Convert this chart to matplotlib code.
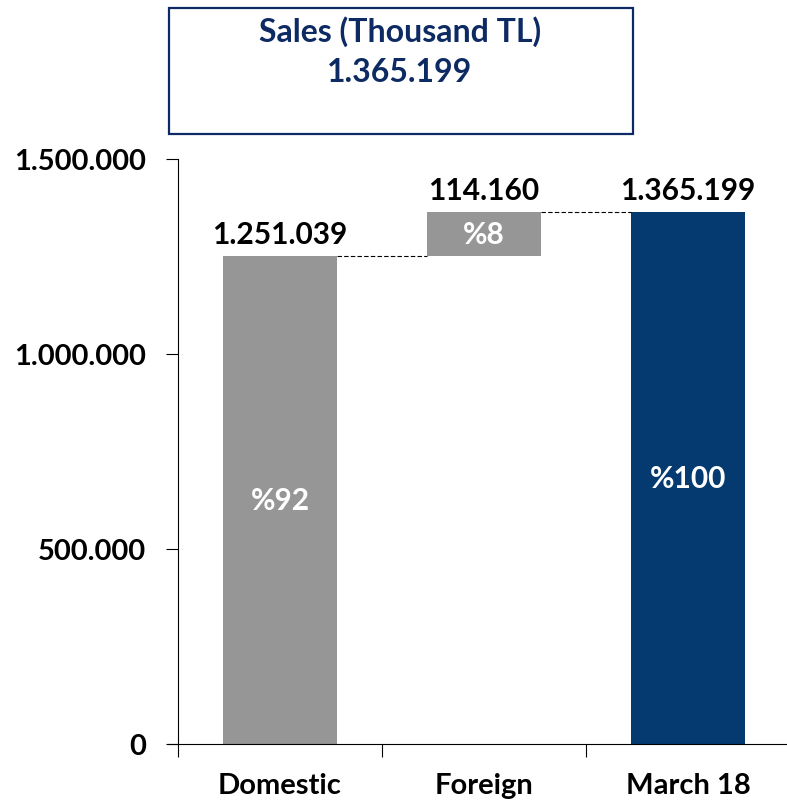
import matplotlib.pyplot as plt
from matplotlib.patches import Rectangle
from matplotlib.ticker import FuncFormatter

categories = ['Domestic', 'Foreign', 'March 18']
values = [1251039, 114160, 1365199]
shares = ['%92', '%8', '%100']
title_lines = ['Sales (Thousand TL)', '1.365.199']

gray = '#969696'
navy = '#053a70'
title_col = '#0d2a63'

plt.rcParams['font.family'] = ['Lato', 'DejaVu Sans']
plt.rcParams['font.weight'] = 'bold'


def tr(v):
    return f'{int(v):,}'.replace(',', '.')


fig = plt.figure(figsize=(7.87, 8.03), dpi=100)
W, H = 787, 803
ax = fig.add_axes([178 / W, 58 / H, 609 / W, 585 / H])

# waterfall: bottoms
bottoms = [0, values[0], 0]
colors = [gray, gray, navy]
bw = 0.56
x = list(range(len(categories)))
ax.bar(x, values, bottom=bottoms, width=bw, color=colors, zorder=2)

# dashed connectors
tops = [b + v for b, v in zip(bottoms, values)]
ax.plot([0 + bw / 2, 1 - bw / 2], [tops[0], tops[0]], ls=(0, (4, 2)), color='black', lw=0.8)
ax.plot([1 + bw / 2, 2 - bw / 2], [tops[1], tops[1]], ls=(0, (4, 2)), color='black', lw=0.8)

# labels
for i in x:
    ax.text(i, tops[i] + 20000, tr(values[i]), ha='center', va='bottom',
            fontsize=21.5, fontweight='bold', color='black')
    ax.text(i, bottoms[i] + values[i] / 2, shares[i], ha='center', va='center',
            fontsize=21.5, fontweight='bold', color='white')

ax.set_ylim(0, 1500000)
ax.set_xlim(-0.5, -0.5 + 609 / 204)
ax.set_yticks([0, 500000, 1000000, 1500000])
ax.yaxis.set_major_formatter(FuncFormatter(lambda v, p: tr(v)))
ax.tick_params(axis='y', direction='out', length=9, width=0.8, labelsize=21, pad=14)
ax.set_xticks(x)
ax.set_xticklabels(categories, fontsize=21, fontweight='bold')
ax.set_xticks([-0.5, 0.5, 1.5], minor=True)
ax.tick_params(axis='x', which='major', length=0, pad=20)
ax.tick_params(axis='x', which='minor', direction='out', length=9, width=0.8)
for lab in ax.get_yticklabels():
    lab.set_fontweight('bold')

ax.spines['top'].set_visible(False)
ax.spines['right'].set_visible(False)
ax.spines['left'].set_linewidth(0.8)
ax.spines['bottom'].set_linewidth(0.8)
ax.spines['bottom'].set_bounds(-0.5 - 10 / 204, ax.get_xlim()[1])

# title box
box = Rectangle((169 / W, 1 - 135 / H), (633 - 169) / W, (135 - 9) / H,
                transform=fig.transFigure, fill=False, edgecolor=title_col, lw=1.6)
fig.patches.append(box)
fig.text(400 / W, 1 - 32 / H, title_lines[0], ha='center', va='center',
         fontsize=23, fontweight='bold', color=title_col)
fig.text(400 / W, 1 - 73 / H, title_lines[1], ha='center', va='center',
         fontsize=23, fontweight='bold', color=title_col)

fig.savefig('out.png', dpi=100)
